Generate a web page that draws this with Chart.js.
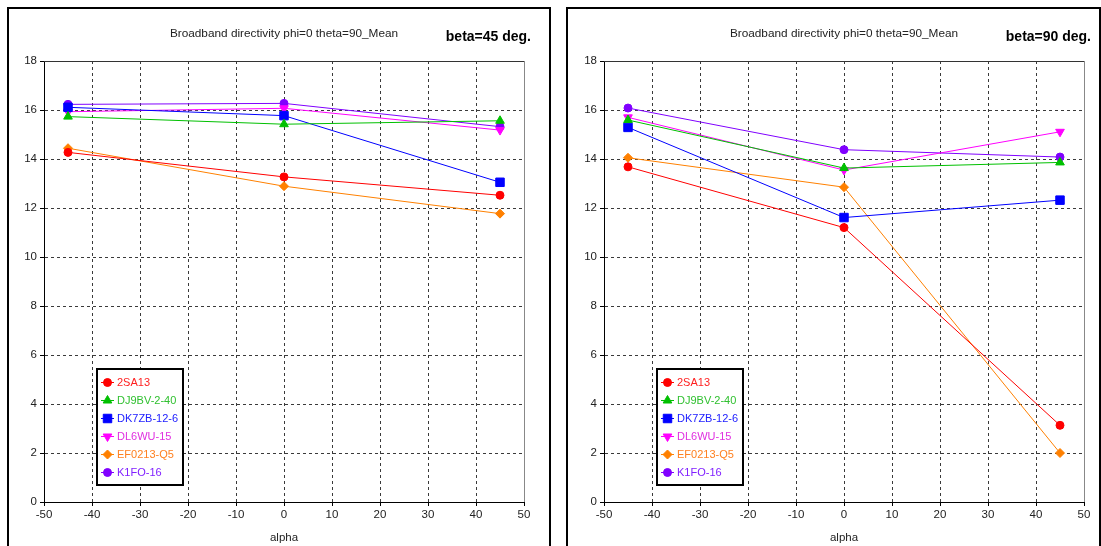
<!DOCTYPE html>
<html>
<head>
<meta charset="utf-8">
<script src="https://cdn.jsdelivr.net/npm/chart.js@4.4.1/dist/chart.umd.min.js"></script>
<style>
  body { margin: 0; background: #fff; width: 1101px; height: 546px; overflow: hidden; position: relative; }
  .panel { position: absolute; top: 7px; height: 600px; border: 2px solid #000; box-sizing: border-box; }
  canvas { position: absolute; top: 9px; }
</style>
</head>
<body>
<div class="panel" style="left:7px;width:544px"></div>
<div class="panel" style="left:566px;width:535px"></div>
<canvas id="beta45" width="540" height="537" style="left:9px"></canvas>
<canvas id="beta90" width="531" height="537" style="left:568px"></canvas>
<script>
// alpha sweep (deg) and the antennas compared
var alpha = [-45, 0, 45];
var antennas = ['2SA13', 'DJ9BV-2-40', 'DK7ZB-12-6', 'DL6WU-15', 'EF0213-Q5', 'K1FO-16'];

// mean broadband directivity, beta = 45 deg
var sa13_45   = [14.27, 13.27, 12.52];
var dj9bv_45  = [15.73, 15.42, 15.56];
var dk7zb_45  = [16.11, 15.77, 13.05];
var dl6wu_45  = [15.93, 16.07, 15.18];
var ef0213_45 = [14.44, 12.89, 11.77];
var k1fo_45   = [16.23, 16.27, 15.32];

// mean broadband directivity, beta = 90 deg
var sa13_90   = [13.68, 11.20, 3.13];
var dj9bv_90  = [15.59, 13.63, 13.86];
var dk7zb_90  = [15.29, 11.61, 12.32];
var dl6wu_90  = [15.70, 13.55, 15.11];
var ef0213_90 = [14.05, 12.85, 2.00];
var k1fo_90   = [16.08, 14.38, 14.08];

// axis ranges: min, max, step
var alphaTicks = [-50, 50, 10];
var dirTicks = [0, 18, 2];

var chartTitle = 'Broadband directivity phi=0 theta=90_Mean';

// series look
var colors = ['#ff0000', '#00c000', '#0000ff', '#ff00ff', '#ff8000', '#8000ff'];
var textColors = ['#ff2020', '#30c030', '#2020ff', '#e030e0', '#ff8020', '#8020ff'];
var styles = ['circle', 'triangle', 'rect', 'triangle', 'rectRot', 'circle'];
var rotations = [0, 0, 0, 180, 0, 0];
var radii = [4, 5, 6, 5, 4.5, 4];

var fontFamily = '"Liberation Sans", Arial, sans-serif';

function makeDatasets(series) {
    return series.map(function (values, i) {
        return {
            label: antennas[i],
            data: alpha.map(function (a, j) { return { x: a, y: values[j] }; }),
            showLine: true,
            borderColor: colors[i],
            backgroundColor: colors[i],
            borderWidth: 1,
            pointStyle: styles[i],
            pointRotation: rotations[i],
            pointRadius: radii[i],
            pointBorderWidth: 1
        };
    });
}

// grid lines on the plot edges are replaced by the frame
function gridColor(range) {
    return function (c) {
        var v = c.tick ? c.tick.value : null;
        return (v === range[0] || v === range[1]) ? 'rgba(0,0,0,0)' : '#3a3a3a';
    };
}

function makeChart(id, series, betaText, yWidth, padRight) {
    var panelPlugin = {
        id: 'panel',
        beforeDatasetsDraw: function (chart) {
            var a = chart.chartArea, ctx = chart.ctx;
            ctx.save();
            ctx.lineWidth = 1;
            ctx.strokeStyle = '#333';
            ctx.beginPath();
            ctx.moveTo(a.left, a.top + 0.5);
            ctx.lineTo(a.right, a.top + 0.5);
            ctx.stroke();
            ctx.strokeStyle = '#888';
            ctx.beginPath();
            ctx.moveTo(a.right + 0.5, a.top);
            ctx.lineTo(a.right + 0.5, a.bottom);
            ctx.stroke();
            ctx.restore();
        },
        afterDraw: function (chart) {
            var a = chart.chartArea, ctx = chart.ctx;
            ctx.save();
            // titles
            ctx.textBaseline = 'middle';
            ctx.fillStyle = '#222';
            ctx.font = '11.8px ' + fontFamily;
            ctx.textAlign = 'center';
            ctx.fillText(chartTitle, (a.left + a.right) / 2, 25);
            ctx.fillStyle = '#000';
            ctx.font = 'bold 14px ' + fontFamily;
            ctx.textAlign = 'right';
            ctx.fillText(betaText, a.right + 7, 28);

            // series box
            var bx = a.left + 53, by = 360, bw = 86, bh = 116;
            ctx.fillStyle = '#fff';
            ctx.fillRect(bx, by, bw, bh);
            ctx.lineWidth = 2;
            ctx.strokeStyle = '#000';
            ctx.strokeRect(bx, by, bw, bh);
            ctx.font = '11px ' + fontFamily;
            ctx.textAlign = 'left';
            chart.data.datasets.forEach(function (ds, i) {
                var ry = by + 13 + i * 18;
                ctx.strokeStyle = colors[i];
                ctx.fillStyle = colors[i];
                ctx.lineWidth = 1;
                ctx.beginPath();
                ctx.moveTo(bx + 4, ry + 0.5);
                ctx.lineTo(bx + 17, ry + 0.5);
                ctx.stroke();
                Chart.helpers.drawPoint(ctx, {
                    pointStyle: styles[i], rotation: rotations[i],
                    radius: radii[i], borderWidth: 1
                }, bx + 10.5, ry + 0.5);
                ctx.fillStyle = textColors[i];
                ctx.fillText(ds.label, bx + 20, ry + 1);
            });
            ctx.restore();
        }
    };

    return new Chart(document.getElementById(id), {
        type: 'scatter',
        data: { datasets: makeDatasets(series) },
        options: {
            responsive: false,
            animation: false,
            layout: { padding: { top: 52, right: padRight, bottom: 0, left: 0 } },
            plugins: { legend: { display: false }, tooltip: { enabled: false } },
            scales: {
                x: {
                    type: 'linear',
                    min: alphaTicks[0], max: alphaTicks[1],
                    ticks: { stepSize: alphaTicks[2], padding: 2, color: '#222', font: { family: fontFamily, size: 11.5 } },
                    grid: { color: gridColor(alphaTicks), tickColor: '#000', tickLength: 4 },
                    border: { color: '#000', width: 1, dash: [3, 3] },
                    title: { display: true, text: 'alpha', color: '#222', padding: { top: 0, bottom: 1 }, font: { family: fontFamily, size: 11.5 } },
                    afterFit: function (s) { s.height = 44; }
                },
                y: {
                    type: 'linear',
                    min: dirTicks[0], max: dirTicks[1],
                    ticks: { stepSize: dirTicks[2], padding: 3, color: '#222', font: { family: fontFamily, size: 11.5 } },
                    grid: { color: gridColor(dirTicks), tickColor: '#000', tickLength: 4 },
                    border: { color: '#000', width: 1, dash: [3, 3] },
                    afterFit: function (s) { s.width = yWidth; }
                }
            }
        },
        plugins: [panelPlugin]
    });
}

makeChart('beta45', [sa13_45, dj9bv_45, dk7zb_45, dl6wu_45, ef0213_45, k1fo_45], 'beta=45 deg.', 35, 25);
makeChart('beta90', [sa13_90, dj9bv_90, dk7zb_90, dl6wu_90, ef0213_90, k1fo_90], 'beta=90 deg.', 36, 15);
</script>
</body>
</html>
